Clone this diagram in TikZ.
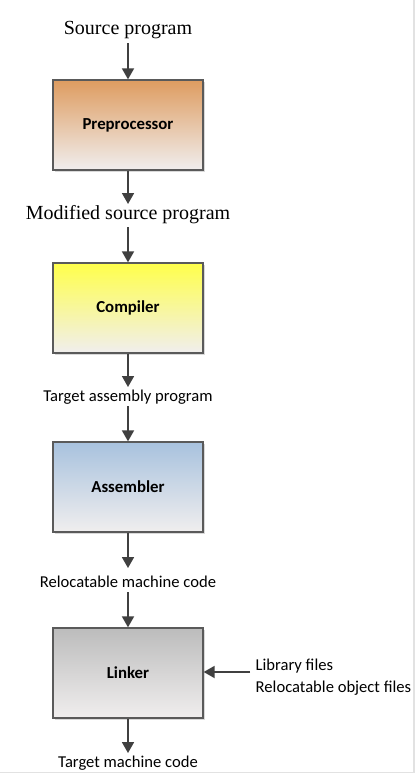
\documentclass[tikz,border=0pt]{standalone}
\usepackage{fontspec}
\setmainfont{Liberation Serif}
\newfontfamily\calibri{Carlito}
\usetikzlibrary{arrows.meta,shadows}
\definecolor{arrowgray}{RGB}{64,64,64}
\definecolor{boxedge}{RGB}{90,90,90}
\definecolor{prtop}{RGB}{222,156,96}
\definecolor{cotop}{RGB}{255,255,75}
\definecolor{astop}{RGB}{168,194,222}
\definecolor{litop}{RGB}{188,188,188}
\definecolor{boxbot}{RGB}{240,238,238}
\definecolor{framegray}{RGB}{226,226,226}
\tikzset{
  procbox/.style={draw=boxedge, line width=1.3pt, minimum width=150pt, minimum height=90pt,
    inner sep=0pt, font=\calibri\fontsize{16.8}{18}\selectfont\bfseries,
    bottom color=boxbot,
    drop shadow={shadow xshift=2pt, shadow yshift=-2pt, fill=black!15, opacity=1}},
  serifl/.style={inner sep=0pt, font=\fontsize{20}{22}\selectfont},
  sansl/.style={inner sep=0pt, font=\calibri\fontsize{16.6}{19}\selectfont},
  flow/.style={draw=arrowgray, line width=1.8pt, -{Triangle[width=12pt,length=11pt]}}
}
\begin{document}
\begin{tikzpicture}[x=1pt,y=-1pt]
\useasboundingbox (0,0) rectangle (416,774);
\fill[white] (0,0) rectangle (416,774);
\draw[framegray, line width=1.2pt] (414,0) -- (414,772.5) -- (0,772.5);

\node[serifl] (src) at (128,30) {Source program};
\node[procbox, top color=prtop] (pre) at (128,125) {Preprocessor};
\node[serifl] (mod) at (128,215) {Modified source program};
\node[procbox, top color=cotop] (comp) at (128,308) {Compiler};
\node[sansl] (tap) at (128,397) {Target assembly program};
\node[procbox, top color=astop] (asm) at (128,487) {Assembler};
\node[sansl] (rmc) at (128,582) {Relocatable machine code};
\node[procbox, top color=litop] (link) at (128,673) {Linker};
\node[sansl] (tmc) at (128,763) {Target machine code};
\node[sansl, anchor=west] (lib) at (255.5,666) {Library files};
\node[sansl, anchor=west] (rof) at (255.5,688) {Relocatable object files};
\coordinate (libin) at (250,672);
\coordinate (a1) at (128,43);
\coordinate (a2) at (128,204);
\coordinate (a3) at (128,227);
\coordinate (a4) at (128,387);
\coordinate (a5) at (128,406);
\coordinate (a6) at (128,568);
\coordinate (a7) at (128,592);
\coordinate (a8) at (128,753);

\draw[flow] (a1) -- (pre.north);
\draw[flow] (pre.south) -- (a2);
\draw[flow] (a3) -- (comp.north);
\draw[flow] (comp.south) -- (a4);
\draw[flow] (a5) -- (asm.north);
\draw[flow] (asm.south) -- (a6);
\draw[flow] (a7) -- (link.north);
\draw[flow] (link.south) -- (a8);
\draw[flow] (libin) -- (link.east |- libin);
\end{tikzpicture}
\end{document}
